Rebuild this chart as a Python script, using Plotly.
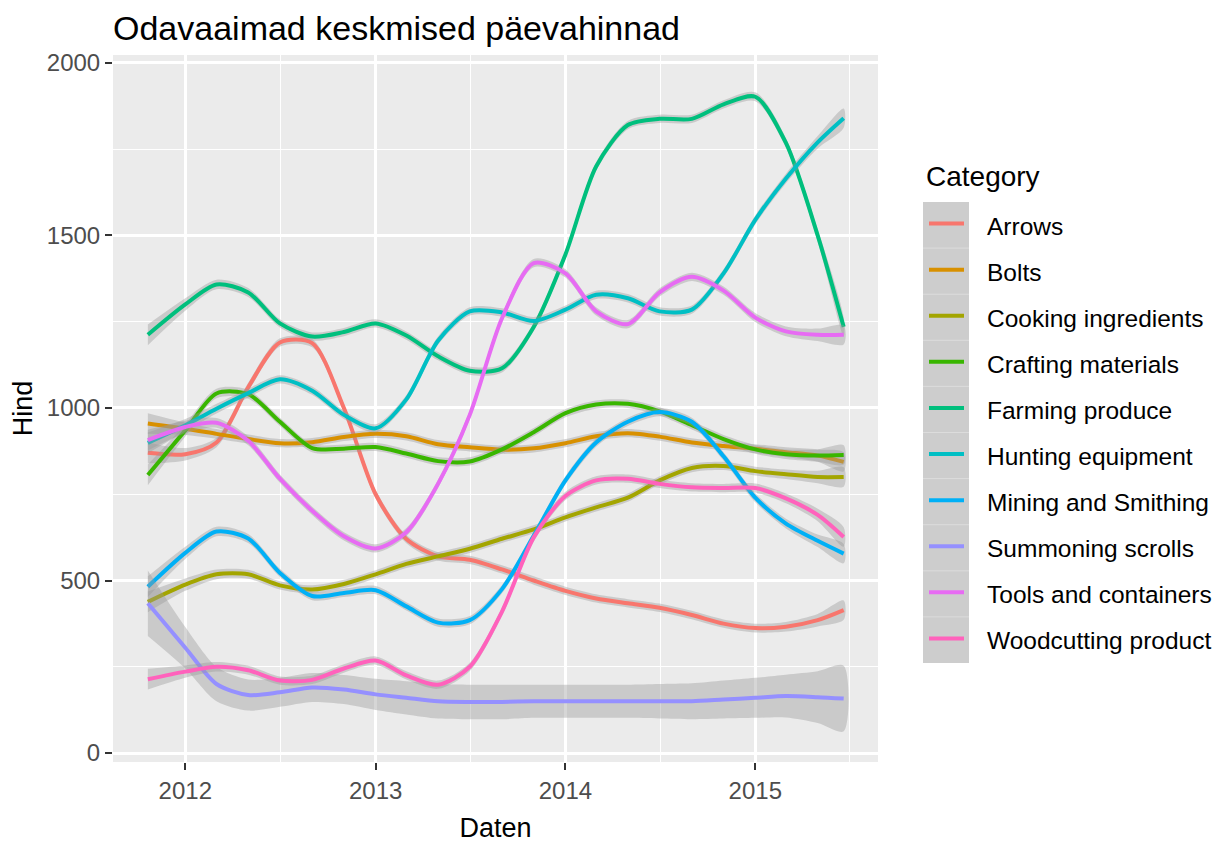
import plotly.graph_objects as go

# ---- data ----
dates = ["2011-10-21", "2012-01-01", "2012-03-01", "2012-05-01", "2012-07-01", "2012-09-01",
         "2012-11-01", "2013-01-01", "2013-03-01", "2013-05-01", "2013-07-01", "2013-09-01",
         "2013-11-01", "2014-01-01", "2014-03-01", "2014-05-01", "2014-07-01", "2014-09-01",
         "2014-11-01", "2015-01-01", "2015-03-01", "2015-05-01", "2015-06-20"]

categories = ["Arrows", "Bolts", "Cooking ingredients", "Crafting materials", "Farming produce",
              "Hunting equipment", "Mining and Smithing", "Summoning scrolls",
              "Tools and containers", "Woodcutting product"]

arrows = [870, 866, 900, 1060, 1190, 1188, 1000, 750, 620, 570, 560, 532, 500, 470, 448, 434,
          421, 400, 375, 362, 366, 385, 414]
bolts = [955, 940, 925, 910, 898, 901, 916, 925, 918, 895, 886, 879, 883, 898, 918, 927, 917,
         900, 890, 882, 872, 862, 844]
cooking = [438, 488, 518, 518, 486, 474, 490, 518, 548, 570, 592, 621, 648, 683, 712, 740, 790,
           826, 832, 817, 808, 800, 800]
crafting = [806, 935, 1042, 1040, 960, 884, 882, 887, 868, 846, 845, 880, 930, 985, 1010, 1012,
            990, 950, 910, 880, 866, 862, 864]
farming = [1212, 1300, 1358, 1335, 1245, 1207, 1220, 1245, 1210, 1150, 1108, 1115, 1235, 1445,
           1700, 1820, 1838, 1838, 1880, 1902, 1768, 1500, 1235]
hunting = [899, 950, 998, 1043, 1083, 1050, 980, 941, 1025, 1195, 1280, 1277, 1252, 1285, 1328,
           1318, 1280, 1285, 1390, 1545, 1665, 1770, 1840]
mining = [482, 580, 642, 622, 522, 455, 464, 472, 425, 378, 385, 475, 630, 790, 900, 960, 988,
          960, 860, 740, 665, 615, 578]
summoning = [434, 305, 200, 168, 176, 190, 184, 170, 160, 150, 148, 148, 150, 150, 150, 150, 150,
             150, 155, 160, 165, 162, 158]
tools = [907, 945, 957, 905, 795, 702, 628, 593, 640, 780, 980, 1260, 1420, 1390, 1280, 1243, 1335,
         1380, 1340, 1262, 1222, 1212, 1212]
woodcutting = [214, 236, 250, 240, 210, 212, 245, 268, 225, 198, 250, 410, 625, 745, 790, 795, 780,
               770, 768, 768, 738, 690, 626]

se_common = [30, 18, 14, 13, 12, 12, 12, 12, 12, 12, 12, 12, 12, 12, 12, 12, 12, 12, 12, 13, 14,
             18, 28]
se_summoning = [95, 60, 50, 45, 42, 42, 42, 45, 48, 50, 50, 50, 48, 48, 48, 48, 50, 52, 55, 58,
                62, 75, 95]

series = [arrows, bolts, cooking, crafting, farming, hunting, mining, summoning, tools, woodcutting]
ses = [se_common] * 7 + [se_summoning] + [se_common] * 2
colors = ["#F8766D", "#D89000", "#A3A500", "#39B600", "#00BF7D", "#00BFC4", "#00B0F6",
          "#9590FF", "#E76BF3", "#FF62BC"]

year_ticks = ["2012-01-01", "2013-01-01", "2014-01-01", "2015-01-01"]
year_labels = ["2012", "2013", "2014", "2015"]
minor_x = ["2012-07-02", "2013-07-02", "2014-07-02", "2015-07-02"]
y_ticks = [0, 500, 1000, 1500, 2000]
y_minor = [250, 750, 1250, 1750]

FONT = "Arial, Liberation Sans, sans-serif"

fig = go.Figure()
for name, vals, se, col in zip(categories, series, ses, colors):
    upper = [v + s for v, s in zip(vals, se)]
    lower = [v - s for v, s in zip(vals, se)]
    fig.add_trace(go.Scatter(
        x=dates + dates[::-1], y=upper + lower[::-1], fill="toself",
        fillcolor="rgba(153,153,153,0.4)", line=dict(width=0, shape="spline", smoothing=0.8),
        mode="lines", hoverinfo="skip", showlegend=False))
    fig.add_trace(go.Scatter(
        x=dates, y=vals, mode="lines", name=name, showlegend=False,
        line=dict(color=col, width=4, shape="spline", smoothing=0.8)))

# figure geometry (page body adds an 8px offset)
OFF = 8
W, H = 1225 - OFF, 843 - OFF
L, R, T, B = 113 - OFF, 878 - OFF, 55 - OFF, 762 - OFF
pw, ph = R - L, B - T


def px_x(p):
    return (p - OFF - L) / pw


def px_y(p):
    return (B - (p - OFF)) / ph


# legend (ggplot style: grey keys with coloured lines)
key_top, key_h = 202, 46.1
shapes = [dict(type="rect", xref="paper", yref="paper", x0=px_x(923), x1=px_x(969),
               y0=px_y(key_top + 10 * key_h), y1=px_y(key_top), fillcolor="#CDCDCD",
               line=dict(width=0), layer="above")]
annotations = [dict(text="Category", xref="paper", yref="paper", x=px_x(924), y=px_y(177),
                    xanchor="left", yanchor="middle", showarrow=False,
                    font=dict(size=28, color="black", family=FONT))]
for k, (name, col) in enumerate(zip(categories, colors)):
    if k > 0:
        yy = key_top + k * key_h
        shapes.append(dict(type="line", xref="paper", yref="paper", x0=px_x(923), x1=px_x(969),
                           y0=px_y(yy), y1=px_y(yy), line=dict(color="#DCDCDC", width=1),
                           layer="above"))
    yc = key_top + (k + 0.5) * key_h - 1.5
    shapes.append(dict(type="line", xref="paper", yref="paper", x0=px_x(929), x1=px_x(964),
                       y0=px_y(yc), y1=px_y(yc), line=dict(color=col, width=4), layer="above"))
    annotations.append(dict(text=name, xref="paper", yref="paper", x=px_x(985), y=px_y(yc + 2.5),
                            xanchor="left", yanchor="middle", showarrow=False,
                            font=dict(size=24.5, color="black", family=FONT)))

fig.update_layout(
    width=W, height=H,
    margin=dict(l=L, r=W - R, t=T, b=H - B),
    paper_bgcolor="white", plot_bgcolor="#EBEBEB",
    font=dict(family=FONT, size=24, color="#4D4D4D"),
    title=dict(text="Odavaaimad keskmised päevahinnad", x=(113 - OFF) / W, xref="container",
               xanchor="left", y=1 - (28 - OFF) / H, yref="container", yanchor="middle",
               font=dict(size=34, color="black", family=FONT)),
    xaxis=dict(type="date", range=["2011-08-15", "2015-08-25"], tickvals=year_ticks,
               ticktext=year_labels, showgrid=True, gridcolor="white", gridwidth=2.5,
               ticks="outside", ticklen=7, tickwidth=2, tickcolor="#333333",
               tickfont=dict(size=24, color="#4D4D4D"), zeroline=False, showline=False,
               automargin=False,
               minor=dict(tickvals=minor_x, showgrid=True, gridcolor="white", gridwidth=1.2),
               title=dict(text="Daten", font=dict(size=27, color="black"), standoff=15)),
    yaxis=dict(range=[-26, 2023], tickvals=y_ticks, showgrid=True, gridcolor="white",
               gridwidth=2.5, ticks="outside", ticklen=7, tickwidth=2, tickcolor="#333333",
               tickfont=dict(size=24, color="#4D4D4D"), zeroline=False, showline=False,
               automargin=False,
               minor=dict(tickvals=y_minor, showgrid=True, gridcolor="white", gridwidth=1.2),
               title=dict(text="Hind", font=dict(size=27, color="black"), standoff=8)),
    shapes=shapes,
    annotations=annotations,
    showlegend=False,
)

fig.write_html("out.html")
